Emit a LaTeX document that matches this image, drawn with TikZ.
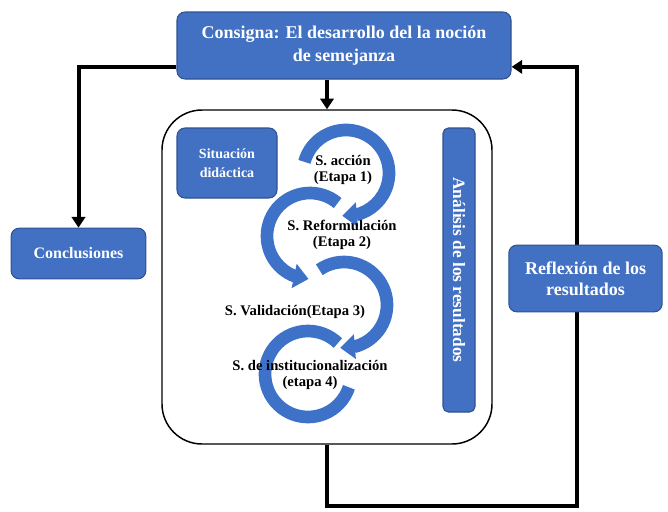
\documentclass[tikz,border=0pt]{standalone}
\usepackage{fontspec}
\setmainfont{Liberation Serif}
\usetikzlibrary{arrows.meta,bending,backgrounds}
\definecolor{boxblue}{RGB}{66,113,196}
\definecolor{boxedge}{RGB}{47,82,143}
\definecolor{arcblue}{RGB}{62,114,200}
\begin{document}
\begin{tikzpicture}[x=0.75pt,y=0.75pt,
  bbox/.style={rounded corners=6pt, fill=boxblue, draw=boxedge, line width=0.8pt, text=white, align=center, inner sep=0pt},
  conn/.style={line width=3pt, draw=black},
  tip/.style={-{Triangle[width=10pt,length=8pt]}},
  cyc/.style={line width=9.5pt, draw=arcblue},
  cyctip/.style={-{Triangle[width=18pt,length=11pt]}},
  lbl/.style={font=\bfseries\fontsize{11}{12}\selectfont, align=center, text=black, inner sep=0pt}]
\useasboundingbox (0,0) rectangle (668,-511);

% boxes
\node[bbox, minimum width=250.5pt, minimum height=50.25pt, font=\bfseries\fontsize{13.5}{17}\selectfont] (consigna) at (344,-45.5) {Consigna: El desarrollo del la noción\\de semejanza};
\node[bbox, minimum width=101pt, minimum height=38pt, font=\bfseries\fontsize{12}{14}\selectfont] (concl) at (78.5,-253.5) {Conclusiones};
\node[bbox, minimum width=115pt, minimum height=50pt, font=\bfseries\fontsize{13.5}{16}\selectfont] (refl) at (585.5,-278.5) {Reflexión de los\\resultados};
\node[draw=black, line width=1.1pt, fill=white, rounded corners=30pt, minimum width=247.5pt, minimum height=250.5pt, inner sep=0pt] (big) at (327,-277) {};
\node[bbox, minimum width=75pt, minimum height=52.5pt, font=\bfseries\fontsize{10.5}{14}\selectfont] (sit) at (227,-163) {Situación\\didáctica};
\node[bbox, rounded corners=4pt, rotate=-90, minimum width=213pt, minimum height=24pt, font=\bfseries\fontsize{13}{15}\selectfont] (anal) at (459,-270) {Análisis de los resultados};

% connectors
\coordinate (br) at (577,-506);
\begin{pgfonlayer}{background}
\draw[conn,tip] (big.north |- consigna.south) -- (big.north);
\draw[conn,tip] ([yshift=-16pt]consigna.west) -| (concl.north);
\draw[conn,tip] (big.south) |- (br) |- ([yshift=-16pt]consigna.east);
\end{pgfonlayer}

% cycle arrows
\coordinate (c1) at (346,-173);
\coordinate (c2) at (310,-236);
\coordinate (c3) at (344,-305);
\coordinate (c4) at (308,-374);
\draw[cyc] (c4) ++(46:43) arc[start angle=46, end angle=342, radius=43];
\draw[cyc,cyctip] (c3) ++(125:43) arc[start angle=125, end angle=-95, radius=43];
\draw[cyc,cyctip] (c2) ++(50:43) arc[start angle=50, end angle=268, radius=43];
\draw[cyc,cyctip] (c1) ++(165:43) arc[start angle=165, end angle=-95, radius=43];

% labels
\node[lbl] (t1) at (343,-170) {S. acción\\(Etapa 1)};
\node[lbl] (t2) at (342,-235) {S. Reformulación\\(Etapa 2)};
\node[lbl] (t3) at (295,-312) {S. Validación(Etapa 3)};
\node[lbl] (t4) at (310,-375) {S. de institucionalización\\(etapa 4)};
\end{tikzpicture}
\end{document}
